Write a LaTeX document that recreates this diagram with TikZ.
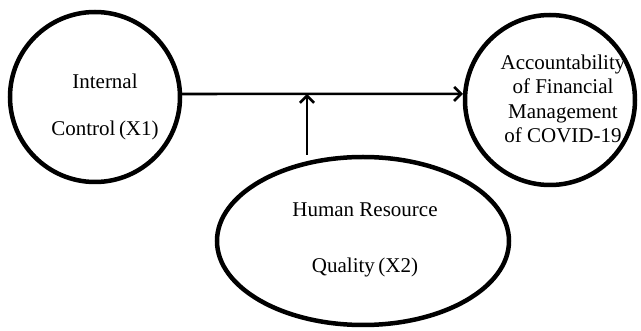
\documentclass[tikz,border=0pt]{standalone}
\usepackage{fontspec}
\setmainfont{Liberation Serif}
\usetikzlibrary{arrows.meta,shapes.geometric}
\begin{document}
\begin{tikzpicture}[x=1pt,y=-1pt,
  var/.style={draw=black,line width=4.5pt,inner sep=0pt},
  lbl/.style={align=center,font=\fontsize{21}{24.5}\selectfont},
  conn/.style={draw=black,line width=2.6pt,-{Straight Barb[length=7pt,width=14pt,line width=2.6pt]}}]
\useasboundingbox (0,0) rectangle (641,331);
\node[var,circle,minimum size=170pt] (x1) at (95,97) {};
\node[var,circle,minimum size=170pt] (y) at (550,100) {};
\node[var,ellipse,minimum width=292pt,minimum height=168pt] (hr) at (363,241) {};
\node[lbl,font=\fontsize{21}{47}\selectfont] (x1t) at (105,107) {Internal\\Control\,(X1)};
\node[lbl] (yt) at (563,99) {Accountability\\of Financial\\Management\\of COVID-19};
\node[lbl,font=\fontsize{21}{56}\selectfont] (hrt) at (365,240) {Human Resource\\Quality\,(X2)};
\draw[conn] (x1.2) -- (y.176);
\coordinate (m) at (307,94);
\draw[conn] (m |- hr.north) -- (m);
\end{tikzpicture}
\end{document}
